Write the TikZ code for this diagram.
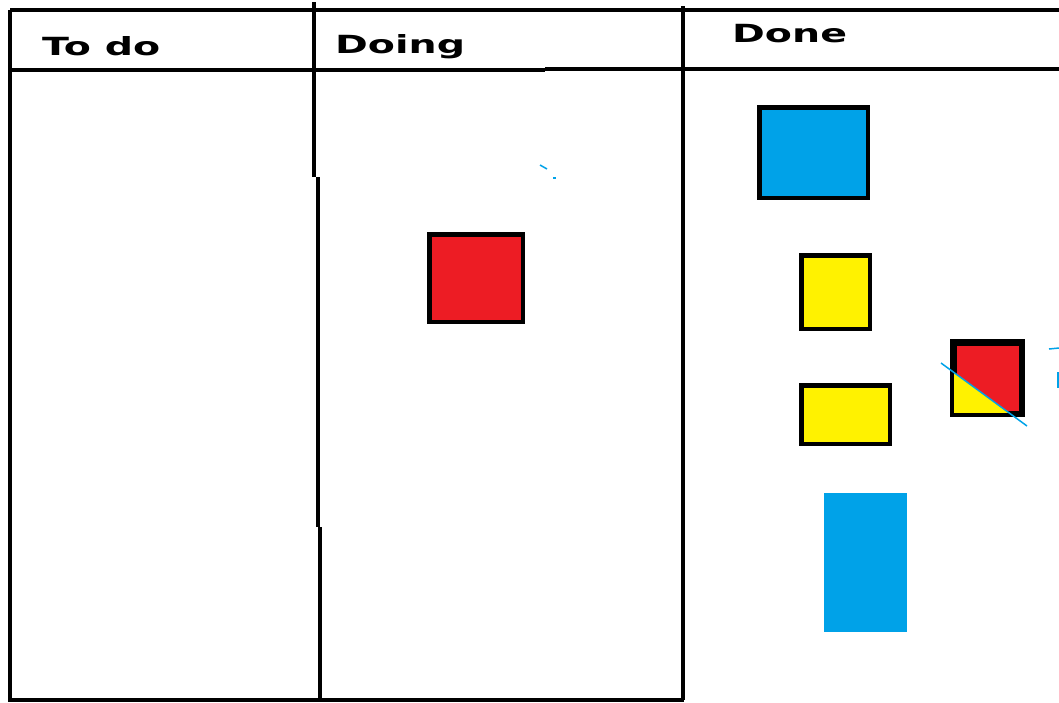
\documentclass[tikz,border=0pt]{standalone}
\usepackage{fontspec}
\setsansfont{DejaVu Sans}
\usetikzlibrary{positioning}
\definecolor{paintblue}{HTML}{00A2E8}
\definecolor{paintred}{HTML}{ED1C24}
\definecolor{paintyellow}{HTML}{FFF200}
\newcommand{\headtext}[1]{\scalebox{1.58}[1]{\sffamily\bfseries\fontsize{25}{30}\selectfont #1}}

\begin{document}
\begin{tikzpicture}[x=1pt, y=-1pt,
  frame/.style={line width=4.5pt},
  head/.style={anchor=base west, inner sep=0pt},
  card/.style={draw, line width=4.5pt, inner sep=0pt},
  scribble/.style={paintblue, line width=1.5pt}]
\useasboundingbox (0,0) rectangle (1059,702);
% board
\draw[frame] (10,10) -- (1059,10);
\draw[frame] (10,10) -- (10,700) -- (684,700);
\draw[frame] (10,70) -- (545,70);
\draw[frame] (545,69) -- (1059,69);
\draw[frame] (314,2) -- (314,177);
\draw[frame] (318,177) -- (318,527);
\draw[frame] (320,527) -- (320,700);
\draw[frame] (683,6) -- (683,700);
% column titles
\node[head] (todo) at (42,55) {\headtext{To do}};
\node[head] (doing) at (335,53) {\headtext{Doing}};
\node[head] (done) at (732,42) {\headtext{Done}};
% cards
\node[card, fill=paintred, minimum width=93.5pt, minimum height=87.5pt] (R1) at (476,278) {};
\node[card, fill=paintblue, minimum width=108.5pt, minimum height=90.5pt] (B1) at (813.5,152.5) {};
\node[card, fill=paintyellow, minimum width=68.5pt, minimum height=73.5pt] (Y1) at (835.5,292) {};
\node[card, fill=paintyellow, minimum width=88.5pt, minimum height=58.5pt] (Y2) at (845.5,414.5) {};
\node[fill=paintblue, minimum width=83pt, minimum height=139pt, inner sep=0pt] (B2) at (865.5,562.5) {};
\node[card, fill=paintred, minimum width=66.5pt, minimum height=69.5pt] (S1) at (987.5,378) {};
\coordinate (cutA) at (941,363);
\coordinate (cutB) at (1027,426);
\begin{scope}
  \clip (S1.south west) rectangle (S1.north east);
  \fill[paintyellow] (cutA) -- (cutB) -- (941,426) -- cycle;
\end{scope}
\draw[line width=4.5pt] (S1.south west) rectangle (S1.north east);
\draw[scribble] (cutA) -- (cutB);
% stray marks
\draw[scribble] (540,165) -- (547,169);
\draw[scribble] (553,178) -- (556,178);
\draw[scribble] (1049,349) -- (1059,348);
\draw[scribble] (1058,372) -- (1058,388);
\end{tikzpicture}
\end{document}
